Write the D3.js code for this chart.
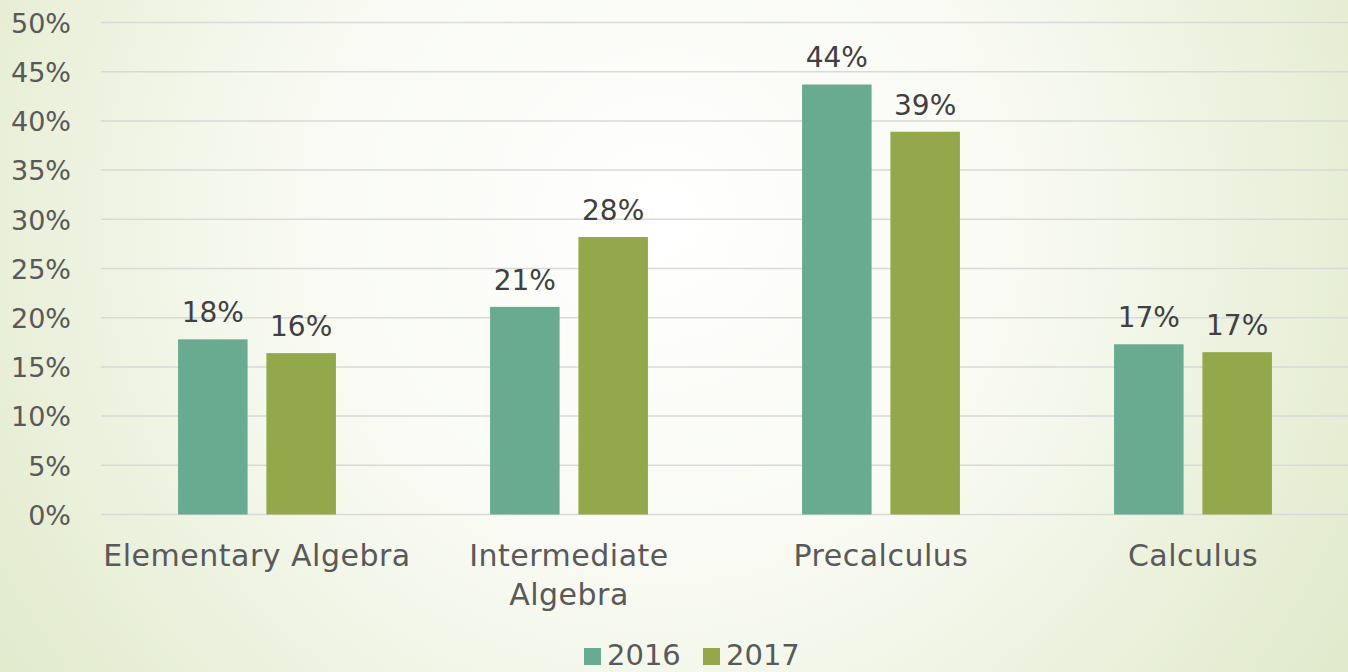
<!DOCTYPE html>
<html>
<head>
<meta charset="utf-8">
<script src="https://cdn.jsdelivr.net/npm/d3@7"></script>
<style>
  html, body { margin: 0; padding: 0; }
  body { width: 1348px; height: 672px; overflow: hidden; }
  text { font-family: "DejaVu Sans", sans-serif; }
</style>
</head>
<body>
<div id="chart"></div>
<script>
// data
var categories = ["Elementary Algebra", "Intermediate Algebra", "Precalculus", "Calculus"];
var years = ["2016", "2017"];
var values2016 = [0.178, 0.211, 0.437, 0.173];
var values2017 = [0.164, 0.282, 0.389, 0.165];
var yTicks = [0, 0.05, 0.10, 0.15, 0.20, 0.25, 0.30, 0.35, 0.40, 0.45, 0.50];
var colors = ["#69ab90", "#93a84b"];

var width = 1348, height = 672;
var margin = { top: 22.5, right: -1, bottom: 157.5, left: 101 };

var svg = d3.select("#chart").append("svg")
    .attr("width", width)
    .attr("height", height);

// background
var defs = svg.append("defs");
var grad = defs.append("radialGradient")
    .attr("id", "bg")
    .attr("gradientUnits", "userSpaceOnUse")
    .attr("cx", 660).attr("cy", 220).attr("r", 830);
grad.append("stop").attr("offset", "0%").attr("stop-color", "#ffffff");
grad.append("stop").attr("offset", "45%").attr("stop-color", "#f8faf2");
grad.append("stop").attr("offset", "100%").attr("stop-color", "#e0e9c9");
svg.append("rect").attr("width", width).attr("height", height).attr("fill", "url(#bg)");

var y = d3.scaleLinear()
    .domain([0, 0.5])
    .range([height - margin.bottom, margin.top]);

var x = d3.scaleBand()
    .domain(categories)
    .range([margin.left, width - margin.right])
    .paddingInner(0.494)
    .paddingOuter(0.247);

var x1 = d3.scaleBand()
    .domain(years)
    .range([0, x.bandwidth()])
    .paddingInner(0.213);

// gridlines
svg.append("g")
    .selectAll("line")
    .data(yTicks)
    .join("line")
    .attr("x1", margin.left)
    .attr("x2", width)
    .attr("y1", d => y(d))
    .attr("y2", d => y(d))
    .attr("stroke", "#d9d9d9")
    .attr("stroke-width", 1.5);

// y axis labels
var yAxis = d3.axisLeft(y)
    .tickValues(yTicks)
    .tickFormat(d3.format(".0%"))
    .tickSize(0)
    .tickPadding(0);

var yG = svg.append("g")
    .attr("transform", "translate(71,0)")
    .call(yAxis);
yG.select(".domain").remove();
yG.selectAll("text")
    .attr("font-size", 27)
    .attr("font-family", null)
    .attr("fill", "#595959")
    .attr("dy", "0.36em");

// bars
var rows = categories.map((c, i) => ({ cat: c, vals: [values2016[i], values2017[i]] }));

var groups = svg.append("g")
    .selectAll("g")
    .data(rows)
    .join("g")
    .attr("transform", d => "translate(" + x(d.cat) + ",0)");

groups.selectAll("rect")
    .data(d => d.vals.map((v, j) => ({ year: years[j], v: v, j: j })))
    .join("rect")
    .attr("x", d => x1(d.year))
    .attr("width", x1.bandwidth())
    .attr("y", d => y(d.v))
    .attr("height", d => y(0) - y(d.v))
    .attr("fill", d => colors[d.j]);

groups.selectAll("text.lbl")
    .data(d => d.vals.map((v, j) => ({ year: years[j], v: v, j: j })))
    .join("text")
    .attr("class", "lbl")
    .attr("x", d => x1(d.year) + x1.bandwidth() / 2)
    .attr("y", d => y(d.v) - 17)
    .attr("text-anchor", "middle")
    .attr("font-size", 28)
    .attr("fill", "#404040")
    .text(d => Math.round(d.v * 100) + "%");

// category labels
var xAxis = d3.axisBottom(x).tickSize(0).tickPadding(0);
var xG = svg.append("g")
    .attr("transform", "translate(0," + y(0) + ")")
    .call(xAxis);
xG.select(".domain").remove();
xG.selectAll("text").remove();
xG.selectAll(".tick").each(function (d) {
    var t = d3.select(this).append("text")
        .attr("text-anchor", "middle")
        .attr("font-size", 30)
        .attr("letter-spacing", 0.5)
        .attr("fill", "#595959");
    var lines = d === "Intermediate Algebra" ? ["Intermediate", "Algebra"] : [d];
    lines.forEach(function (l, k) {
        t.append("tspan").attr("x", 0).attr("y", 51 + k * 39).text(l);
    });
});

// legend
var legend = svg.append("g").attr("transform", "translate(584,665)");
var legendX = [0, 119];
years.forEach(function (yr, i) {
    var g = legend.append("g").attr("transform", "translate(" + legendX[i] + ",0)");
    g.append("rect").attr("x", 0).attr("y", -17).attr("width", 17).attr("height", 17).attr("fill", colors[i]);
    g.append("text").attr("x", 23).attr("y", 0).attr("font-size", 29).attr("fill", "#595959").text(yr);
});
</script>
</body>
</html>
